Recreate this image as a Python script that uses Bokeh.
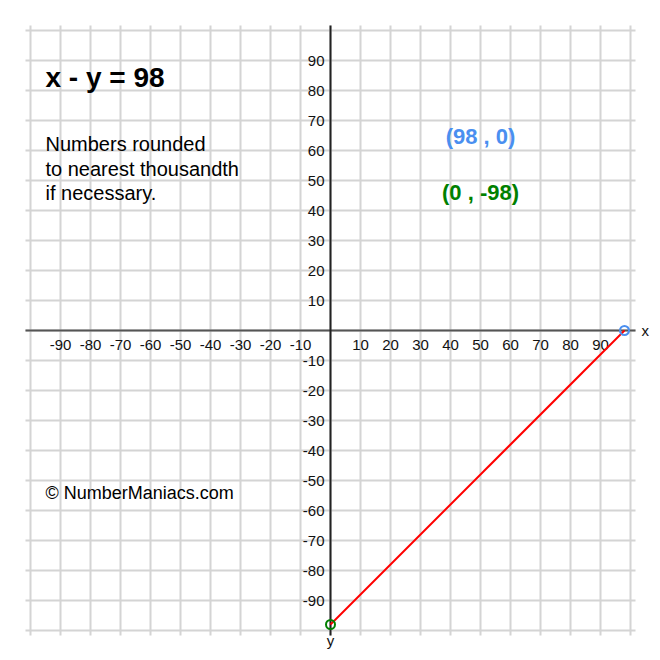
from bokeh.plotting import figure
from bokeh.models import Range1d
from bokeh.core.properties import value
from bokeh.embed import file_html
from bokeh.resources import INLINE

# ---- data ----
equation = "x - y = 98"
note_lines = ["Numbers rounded", "to nearest thousandth", "if necessary."]
credit = "\u00a9 NumberManiacs.com"
x_intercept = (98, 0)
y_intercept = (0, -98)
grid_ticks = list(range(-100, 101, 10))
x_tick_values = [-90, -80, -70, -60, -50, -40, -30, -20, -10, 10, 20, 30, 40, 50, 60, 70, 80, 90]
y_tick_values = [90, 80, 70, 60, 50, 40, 30, 20, 10, -10, -20, -30, -40, -50, -60, -70, -80, -90]
x_tick_labels = [str(v) for v in x_tick_values]
y_tick_labels = [str(v) for v in y_tick_values]

FONT = value("Liberation Sans")
EXT = 101.67   # extent of grid and axis lines
R = 110.0      # visible range

p = figure(width=660, height=660, output_backend="svg", toolbar_location=None,
           x_range=Range1d(-R, R), y_range=Range1d(-R, R),
           min_border=0, x_axis_location=None, y_axis_location=None)
p.outline_line_color = None
p.xgrid.visible = False
p.ygrid.visible = False
p.background_fill_color = "white"
p.border_fill_color = "white"

# grid lines
n = len(grid_ticks)
p.segment(x0=grid_ticks, y0=[-EXT] * n, x1=grid_ticks, y1=[EXT] * n,
          line_color="#d4d4d4", line_width=2)
p.segment(x0=[-EXT] * n, y0=grid_ticks, x1=[EXT] * n, y1=grid_ticks,
          line_color="#d4d4d4", line_width=2)

# axes
p.segment(x0=[-EXT], y0=[0], x1=[EXT], y1=[0], line_color="#555555", line_width=2)
p.segment(x0=[0], y0=[-EXT], x1=[0], y1=[EXT], line_color="#222222", line_width=2)

# tick labels
p.text(x=x_tick_values, y=[0] * len(x_tick_values), text=x_tick_labels,
       text_font=FONT, text_font_size="15px", text_color="#111111",
       text_align="center", text_baseline="middle", y_offset=14)
p.text(x=[0] * len(y_tick_values), y=y_tick_values, text=y_tick_labels,
       text_font=FONT, text_font_size="15px", text_color="#111111",
       text_align="right", text_baseline="middle", x_offset=-6)

# axis names
p.text(x=[EXT], y=[0], text=["x"], text_font=FONT, text_font_size="15px",
       text_color="#111111", text_align="left", text_baseline="middle", x_offset=6)
p.text(x=[0], y=[-EXT], text=["y"], text_font=FONT, text_font_size="15px",
       text_color="#111111", text_align="center", text_baseline="middle", y_offset=5)

# the line
p.line(x=[y_intercept[0], x_intercept[0]], y=[y_intercept[1], x_intercept[1]],
       line_color="red", line_width=2)
p.scatter(x=[x_intercept[0]], y=[x_intercept[1]], size=9, marker="circle",
          fill_color=None, line_color="#4a8ff0", line_width=2)
p.scatter(x=[y_intercept[0]], y=[y_intercept[1]], size=9, marker="circle",
          fill_color=None, line_color="green", line_width=2)

# texts
p.text(x=[-95], y=[84.3], text=[equation], text_font=FONT, text_font_size="28px",
       text_font_style="bold", text_color="black", text_baseline="middle")
p.text(x=[-95] * 3, y=[62.3, 54.0, 45.7], text=note_lines, text_font=FONT,
       text_font_size="20px", text_color="black", text_baseline="middle")
p.text(x=[-95], y=[-54.3], text=[credit], text_font=FONT, text_font_size="18px",
       text_color="black", text_baseline="middle")
p.text(x=[50], y=[64.7], text=["(%d , %d)" % x_intercept], text_font=FONT,
       text_font_size="22px", text_font_style="bold", text_color="#4a8ff0",
       text_align="center", text_baseline="middle")
p.text(x=[50], y=[46.0], text=["(%d , %d)" % y_intercept], text_font=FONT,
       text_font_size="22px", text_font_style="bold", text_color="green",
       text_align="center", text_baseline="middle")

open("out.html", "w").write(file_html(p, INLINE))
